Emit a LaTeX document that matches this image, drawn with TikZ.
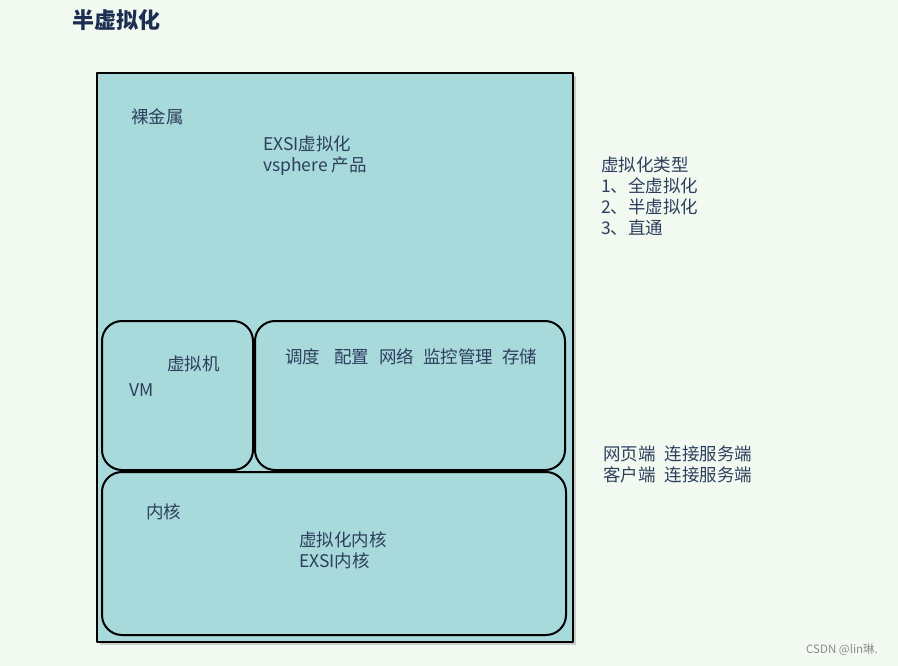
\documentclass[tikz,border=0pt]{standalone}
\usepackage{fontspec}
\setmainfont{Noto Sans CJK SC}
\usetikzlibrary{shadows}

\definecolor{pagebg}{HTML}{F1F9F1}
\definecolor{boxfill}{HTML}{A8D9DB}
\definecolor{inktext}{HTML}{2E3F5E}
\definecolor{titleink}{HTML}{1C2E52}

\begin{document}
\begin{tikzpicture}[
						x=1pt, y=-1pt,
						line join=round,
						hostbox/.style={draw=black, line width=2pt, fill=boxfill, inner sep=0pt,
							drop shadow={shadow xshift=3pt, shadow yshift=-3pt, opacity=0.35}},
						roundbox/.style={draw=black, line width=2pt, fill=boxfill, inner sep=0pt, rounded corners=20pt},
						txt/.style={anchor=west, inner sep=0pt, text=inktext, align=left,
							font=\fontsize{17.5}{21}\selectfont},
						titlefont/.style={anchor=west, inner sep=0pt, font=\fontsize{22}{26}\selectfont\bfseries}
						]
						
						% page
						\useasboundingbox (0,0) rectangle (898,666);
						\fill[pagebg] (0,0) rectangle (898,666);
						
						\node[titlefont, text=titleink] (title) at (72,20) {半虚拟化};
						
						% host and its parts
						\node[hostbox, minimum width=476pt, minimum height=569pt] (host) at (335,357.5) {};
						\node[roundbox, minimum width=151pt, minimum height=149pt] (vm) at (177.5,395.5) {};
						\node[roundbox, minimum width=310pt, minimum height=149pt] (svc) at (410,395.5) {};
						\node[roundbox, minimum width=464pt, minimum height=163pt] (kernel) at (334,553.5) {};
						
						\node[txt] (baremetal) at (131,117) {裸金属};
						\node[txt] (exsi) at (263,155.5) {EXSI虚拟化\\vsphere 产品};
						
						\node[txt] (vmname) at (167,364) {虚拟机};
						\node[txt] (vmtag) at (129,390) {VM};
						\node[txt] (svclist) at (285,357) {调度\hspace{14pt}配置\hspace{10pt}网络\hspace{9pt}监控管理\hspace{9pt}存储};
						
						\node[txt] (kname) at (146,512) {内核};
						\node[txt] (kdesc) at (299,550.5) {虚拟化内核\\EXSI内核};
						
						% notes on the right
						\node[txt] (types) at (601,196) {虚拟化类型\\1、全虚拟化\\2、半虚拟化\\3、直通};
						\node[txt] (access) at (603,464) {网页端\hspace{9pt}连接服务端\\客户端\hspace{9pt}连接服务端};
						
						\node[anchor=west, inner sep=0pt, text=black!45, font=\fontsize{11.5}{13}\selectfont] (mark) at (806,650) {CSDN @lin琳.};
						
					\end{tikzpicture}
\end{document}
